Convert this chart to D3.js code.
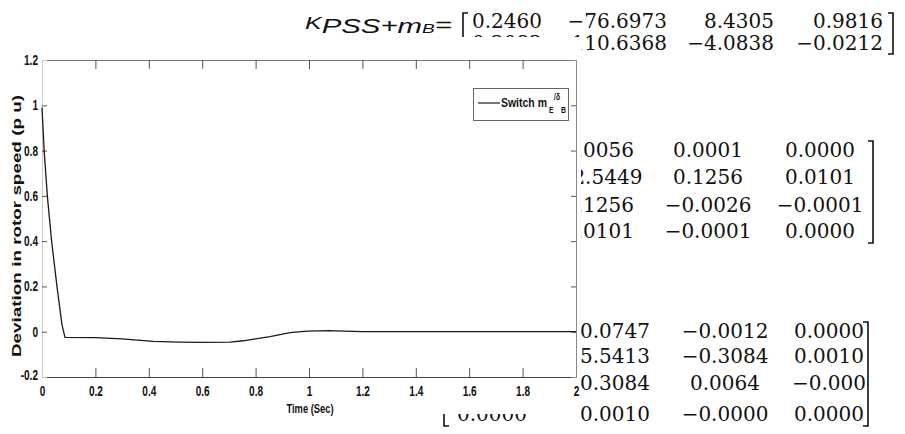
<!DOCTYPE html>
<html><head><meta charset="utf-8">
<script src="https://cdn.jsdelivr.net/npm/d3@7"></script>
<style>body{margin:0;background:#fff}</style>
</head><body>
<svg id="c" width="905" height="434"></svg>
<script>
// ---- data ----
const timeSec       = [0, 0.008, 0.02, 0.036, 0.056, 0.075, 0.086, 0.2, 0.3, 0.416, 0.517, 0.6, 0.704, 0.753, 0.8, 0.854, 0.929, 0.993, 1.079, 1.1, 1.2, 1.4, 1.6, 1.8, 2.0];
const rotorSpeedDev = [0.99, 0.8, 0.6, 0.4, 0.2, 0.03, -0.025, -0.026, -0.032, -0.043, -0.046, -0.047, -0.046, -0.040, -0.032, -0.022, -0.004, 0.003, 0.005, 0.004, 0, 0, 0, 0, 0];
const xTickValues = [0, 0.2, 0.4, 0.6, 0.8, 1, 1.2, 1.4, 1.6, 1.8, 2];
const xTickLabels = ["0", "0.2", "0.4", "0.6", "0.8", "1", "1.2", "1.4", "1.6", "1.8", "2"];
const yTickValues = [-0.2, 0, 0.2, 0.4, 0.6, 0.8, 1, 1.2];
const yTickLabels = ["-0.2", "0", "0.2", "0.4", "0.6", "0.8", "1", "1.2"];
const xTitle = "Time (Sec)";
const yTitle = "Deviation in rotor speed (p u)";
const legendParts = ["Switch m", "E", "/\u03b4", "B"];
const matrixA = [["0.2460", "\u221276.6973", "8.4305", "0.9816"],
                 ["0.2082", "\u2212110.6368", "\u22124.0838", "\u22120.0212"]];
const matrixB = [["0.0056", "0.0001", "0.0000"],
                 ["\u22122.5449", "0.1256", "0.0101"],
                 ["0.1256", "\u22120.0026", "\u22120.0001"],
                 ["0.0101", "\u22120.0001", "0.0000"]];
const matrixC = [["", "0.0747", "\u22120.0012", "0.0000"],
                 ["", "5.5413", "\u22120.3084", "0.0010"],
                 ["", "0.3084", "0.0064", "\u22120.000"],
                 ["0.0000", "0.0010", "\u22120.0000", "0.0000"]];

// ---- drawing ----
const svg = d3.select("#c");
const serif = "'DejaVu Serif', serif";
const sans = "'Liberation Sans', Arial, sans-serif";
function squeeze(sel, f) {
  sel.each(function () {
    const w = this.getComputedTextLength();
    if (w > 0) d3.select(this).attr("textLength", w * f).attr("lengthAdjust", "spacingAndGlyphs");
  });
}

// title K_PSS+m_B=
const title = svg.append("text").attr("x", 305).attr("y", 33)
  .attr("font-family", sans).attr("font-style", "italic")
  .attr("textLength", 147).attr("lengthAdjust", "spacingAndGlyphs").attr("fill", "#111");
title.append("tspan").attr("font-size", 17).attr("dy", -4).text("K");
title.append("tspan").attr("font-size", 20).attr("dy", 4).text("PSS+m");
title.append("tspan").attr("font-size", 13).text("B");
title.append("tspan").attr("font-size", 20).attr("dy", -1).text("=");

function drawMatrix(m, colX, rowY, anchor, lb, rb) {
  const g = svg.append("g").attr("font-family", serif).attr("font-size", 20).attr("fill", "#111");
  m.forEach((row, i) => row.forEach((v, j) => {
    if (v) g.append("text").attr("x", colX[j]).attr("y", rowY[i]).attr("text-anchor", anchor).text(v);
  }));
  const br = (x, y0, y1, dir) => svg.append("path")
    .attr("d", `M${x + dir * 5},${y0}H${x}V${y1}H${x + dir * 5}`)
    .attr("fill", "none").attr("stroke", "#111").attr("stroke-width", 1.6);
  if (lb) br(lb[0], lb[1], lb[2], 1);
  if (rb) br(rb[0], rb[1], rb[2], -1);
}
drawMatrix(matrixA, [542, 667, 774, 883], [28, 50], "end", [463, 13, 54], [893, 13, 54]);
drawMatrix(matrixB, [599, 708, 820], [157, 184, 212, 238], "middle", [555, 141, 243], [873, 141, 243]);
drawMatrix(matrixC, [492, 615, 725, 829], [338, 363, 390, 421], "middle", [444, 322, 426], [868, 322, 426]);

// chart box (covers what lies behind)
svg.append("rect").attr("x", 0).attr("y", 37).attr("width", 581).attr("height", 377).attr("fill", "#fff");

const x = d3.scaleLinear().domain([0, 2]).range([42, 576]);
const y = d3.scaleLinear().domain([-0.2, 1.2]).range([377, 60]);
const chart = svg.append("g");

// axes
const xb = chart.append("g").attr("transform", `translate(0,${y(-0.2)})`)
  .call(d3.axisBottom(x).tickValues(xTickValues).tickSize(-9).tickFormat((d, i) => xTickLabels[i]).tickPadding(9));
const xt = chart.append("g").attr("transform", `translate(0,${y(1.2)})`)
  .call(d3.axisTop(x).tickValues(xTickValues).tickSize(-9).tickFormat(""));
const yl = chart.append("g").attr("transform", `translate(${x(0)},0)`)
  .call(d3.axisLeft(y).tickValues(yTickValues).tickSize(-5).tickFormat((d, i) => yTickLabels[i]).tickPadding(4));
const yr = chart.append("g").attr("transform", `translate(${x(2)},0)`)
  .call(d3.axisRight(y).tickValues(yTickValues).tickSize(-5).tickFormat(""));
[xb, xt, yl, yr].forEach(g => {
  g.selectAll("text").attr("font-family", sans).attr("font-weight", "bold").attr("font-size", 14).attr("fill", "#111");
  g.selectAll(".tick line").attr("stroke", "#555");
});
squeeze(xb.selectAll("text"), 0.72);
squeeze(yl.selectAll("text"), 0.72);
yl.selectAll(".tick text").filter(d => d === -0.2).attr("dy", "0.2em");
xb.select(".domain").attr("stroke", "#444");
xt.select(".domain").attr("stroke", "#777");
yl.select(".domain").attr("stroke", "#ccc");
yr.select(".domain").attr("stroke", "#888");
xb.selectAll(".tick line").filter(d => d === 0 || d === 2).remove();
xt.selectAll(".tick line").filter(d => d === 0 || d === 2).remove();
yl.selectAll(".tick line").filter(d => d === -0.2 || d === 1.2).remove();
yr.selectAll(".tick line").filter(d => d === -0.2 || d === 1.2).remove();

// curve
const pts = timeSec.map((t, i) => [t, rotorSpeedDev[i]]);
chart.append("path").datum(pts)
  .attr("d", d3.line().x(d => x(d[0])).y(d => y(d[1])).curve(d3.curveLinear))
  .attr("fill", "none").attr("stroke", "#1a1a1a").attr("stroke-width", 1.3).attr("stroke-linejoin", "round");

// titles
const xtitle = chart.append("text").attr("x", 310).attr("y", 413).attr("text-anchor", "middle")
  .attr("font-family", sans).attr("font-weight", "bold").attr("font-size", 13).attr("fill", "#111").text(xTitle);
squeeze(xtitle, 0.72);
chart.append("text").attr("transform", "translate(21,226) rotate(-90)").attr("text-anchor", "middle")
  .attr("font-family", sans).attr("font-weight", "bold").attr("font-size", 12)
  .attr("textLength", 262).attr("lengthAdjust", "spacingAndGlyphs").attr("fill", "#111").text(yTitle);

// legend
const lg = chart.append("g");
lg.append("rect").attr("x", 473.5).attr("y", 88.5).attr("width", 95).attr("height", 32)
  .attr("fill", "#fff").attr("stroke", "#666").attr("stroke-width", 1);
lg.append("line").attr("x1", 478).attr("x2", 500).attr("y1", 103).attr("y2", 103).attr("stroke", "#1a1a1a").attr("stroke-width", 1.2);
const legendSpec = [
  { x: 501, y: 107, size: 12, w: 46 },
  { x: 549, y: 113, size: 9, w: 4.5 },
  { x: 554, y: 100, size: 9, w: 6 },
  { x: 561, y: 113, size: 9, w: 5 }
];
legendParts.forEach((t, i) => {
  const s = legendSpec[i];
  const g = lg.append("g");
  const tx = g.append("text").attr("x", 0).attr("y", 0).attr("font-family", sans).attr("font-weight", "bold")
    .attr("font-size", s.size).attr("fill", "#111").text(t);
  const sx = s.w / tx.node().getComputedTextLength();
  g.attr("transform", `translate(${s.x},${s.y}) scale(${sx},1)`);
});
</script>
</body></html>
